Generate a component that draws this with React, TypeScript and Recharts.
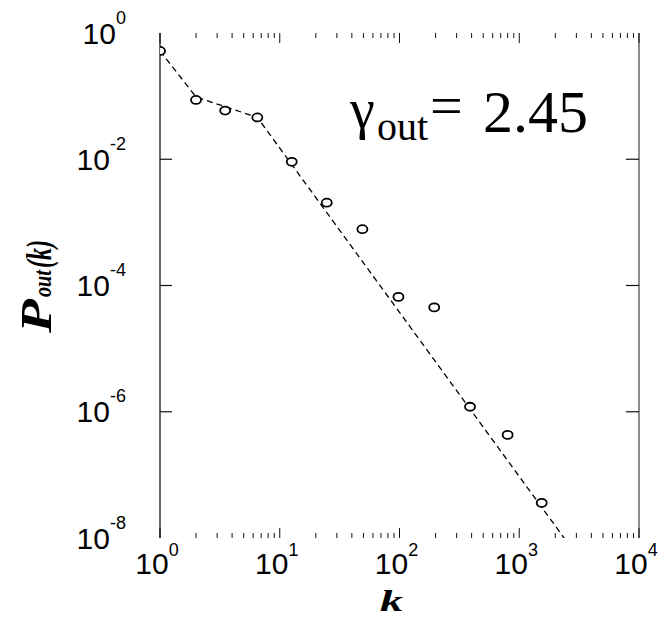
import React from 'react';
import { ComposedChart, XAxis, YAxis, Scatter, Line, Customized } from 'recharts';

// Out-degree distribution P_out(k) on log-log axes
const degree = [1, 2, 3.5, 6.5, 12.6, 24.7, 49, 98, 195, 388, 800, 1540];
const probability = [0.52, 0.087, 0.059, 0.046, 0.0091, 0.00205, 7.8e-4, 6.6e-5, 4.5e-5, 1.2e-6, 4.3e-7, 3.6e-8];

// Dashed guide: short-k segments, then the power-law tail
const fitDegree = [1, 2, 6.5, 2370];
const fitProbability = [0.52, 0.097, 0.046, 1e-8];

const xMajorTicks = [1, 10, 100, 1000, 10000];
const xMinorTicks = [
  2, 3, 4, 5, 6, 7, 8, 9,
  20, 30, 40, 50, 60, 70, 80, 90,
  200, 300, 400, 500, 600, 700, 800, 900,
  2000, 3000, 4000, 5000, 6000, 7000, 8000, 9000,
];
const yMajorTicks = [1e-8, 1e-6, 1e-4, 1e-2, 1];

const gammaOut = '2.45';

const points = degree.map((k, i) => ({ k, p: probability[i] }));
const fit = fitDegree.map((k, i) => ({ k, p: fitProbability[i] }));
const xTicks = [...xMajorTicks, ...xMinorTicks].sort((a, b) => a - b);

const SANS = '"Liberation Sans", Arial, Helvetica, sans-serif';
const SERIF = '"Liberation Serif", "Times New Roman", Times, serif';

const exponentOf = (v: number) => String(Math.round(Math.log10(v)));

const BottomTick = (props: any) => {
  const { x, y, payload } = props;
  const v = payload.value;
  const major = xMajorTicks.includes(v);
  return (
    <g>
      <line x1={x} x2={x} y1={y} y2={y - (major ? 10 : 5)} stroke="#111" strokeWidth={1} />
      {major && (
        <text x={x - 3} y={y + 36} textAnchor="middle" fontFamily={SANS} fontSize={30} fill="#000">
          10
          <tspan dy={-18} fontSize={18}>{exponentOf(v)}</tspan>
        </text>
      )}
    </g>
  );
};

const TopTick = (props: any) => {
  const { x, y, payload } = props;
  const major = xMajorTicks.includes(payload.value);
  return <line x1={x} x2={x} y1={y} y2={y + (major ? 10 : 5)} stroke="#111" strokeWidth={1} />;
};

const isEdge = (v: number) => v === yMajorTicks[0] || v === yMajorTicks[yMajorTicks.length - 1];

const LeftTick = (props: any) => {
  const { x, y, payload } = props;
  const v = payload.value;
  return (
    <g>
      {!isEdge(v) && <line x1={x} x2={x + 12} y1={y} y2={y} stroke="#111" strokeWidth={1.2} />}
      <text x={x - 34} y={y + 10.5} textAnchor="end" fontFamily={SANS} fontSize={30} fill="#000">
        10
        <tspan dy={-20} fontSize={18}>{exponentOf(v)}</tspan>
      </text>
    </g>
  );
};

const RightTick = (props: any) => {
  const { x, y, payload } = props;
  if (isEdge(payload.value)) return <g />;
  return <line x1={x} x2={x - 13} y1={y} y2={y} stroke="#111" strokeWidth={1.2} />;
};

const OpenCircle = (props: any) => (
  <ellipse cx={props.cx} cy={props.cy} rx={5} ry={4} fill="#fff" stroke="#000" strokeWidth={1.8} />
);

const Labels = () => (
  <g>
    {/* exponent annotation */}
    <text x={350} y={128} fontFamily={SERIF} fontSize={56} fill="#000">γ</text>
    <text x={377} y={140} fontFamily={SERIF} fontSize={40} fill="#000">out</text>
    <text x={430} y={125} fontFamily={SERIF} fontSize={58} fill="#000">=</text>
    <text x={483} y={132} fontFamily={SERIF} fontSize={60} fill="#000">{gammaOut}</text>

    {/* y-axis title, reads bottom to top */}
    <g transform="translate(51, 333) rotate(-90)">
      <text x={0} y={0} fontFamily={SERIF} fontStyle="italic" fontWeight="bold" fontSize={44}
        textLength={34} lengthAdjust="spacingAndGlyphs" fill="#000">P</text>
      <text x={36} y={0} fontFamily={SERIF} fontStyle="italic" fontWeight="bold" fontSize={26}
        textLength={27} lengthAdjust="spacingAndGlyphs" fill="#000">out</text>
      <text x={65} y={0} fontFamily={SERIF} fontStyle="italic" fontWeight="bold" fontSize={36}
        textLength={28} lengthAdjust="spacingAndGlyphs" fill="#000">(k)</text>
    </g>

    {/* x-axis title */}
    <text x={380} y={611} fontFamily={SERIF} fontStyle="italic" fontWeight="bold" fontSize={30}
      textLength={23} lengthAdjust="spacingAndGlyphs" fill="#000">k</text>
  </g>
);

export default function App() {
  return (
    <div style={{ position: 'absolute', left: 0, top: 0, width: 664, height: 618, background: '#fff' }}>
      <ComposedChart width={664} height={618} margin={{ top: 0, right: 0, bottom: 0, left: 0 }}>
        <XAxis
          xAxisId="bottom"
          dataKey="k"
          type="number"
          scale="log"
          domain={[1, 10000]}
          allowDataOverflow
          ticks={xTicks}
          interval={0}
          tickSize={0}
          tickMargin={0}
          height={80}
          axisLine={false}
          tickLine={false}
          tick={<BottomTick />}
        />
        <XAxis
          xAxisId="top"
          orientation="top"
          dataKey="k"
          type="number"
          scale="log"
          domain={[1, 10000]}
          allowDataOverflow
          ticks={xTicks}
          interval={0}
          tickSize={0}
          tickMargin={0}
          height={33}
          axisLine={false}
          tickLine={false}
          tick={<TopTick />}
        />
        <YAxis
          yAxisId="left"
          dataKey="p"
          type="number"
          scale="log"
          domain={[1e-8, 1]}
          allowDataOverflow
          ticks={yMajorTicks}
          interval={0}
          tickSize={0}
          tickMargin={0}
          width={160}
          axisLine={{ stroke: '#333', strokeWidth: 1.5 }}
          tickLine={false}
          tick={<LeftTick />}
        />
        <YAxis
          yAxisId="right"
          orientation="right"
          dataKey="p"
          type="number"
          scale="log"
          domain={[1e-8, 1]}
          allowDataOverflow
          ticks={yMajorTicks}
          interval={0}
          tickSize={0}
          tickMargin={0}
          width={25}
          axisLine={{ stroke: '#666', strokeWidth: 1.5 }}
          tickLine={false}
          tick={<RightTick />}
        />
        <Line
          xAxisId="bottom"
          yAxisId="left"
          data={fit}
          dataKey="p"
          type="linear"
          stroke="#000"
          strokeWidth={1.3}
          strokeDasharray="6 4"
          dot={false}
          activeDot={false}
          isAnimationActive={false}
        />
        <Scatter
          xAxisId="bottom"
          yAxisId="left"
          data={points}
          dataKey="p"
          shape={<OpenCircle />}
          isAnimationActive={false}
        />
        <Customized component={Labels} />
      </ComposedChart>
    </div>
  );
}
